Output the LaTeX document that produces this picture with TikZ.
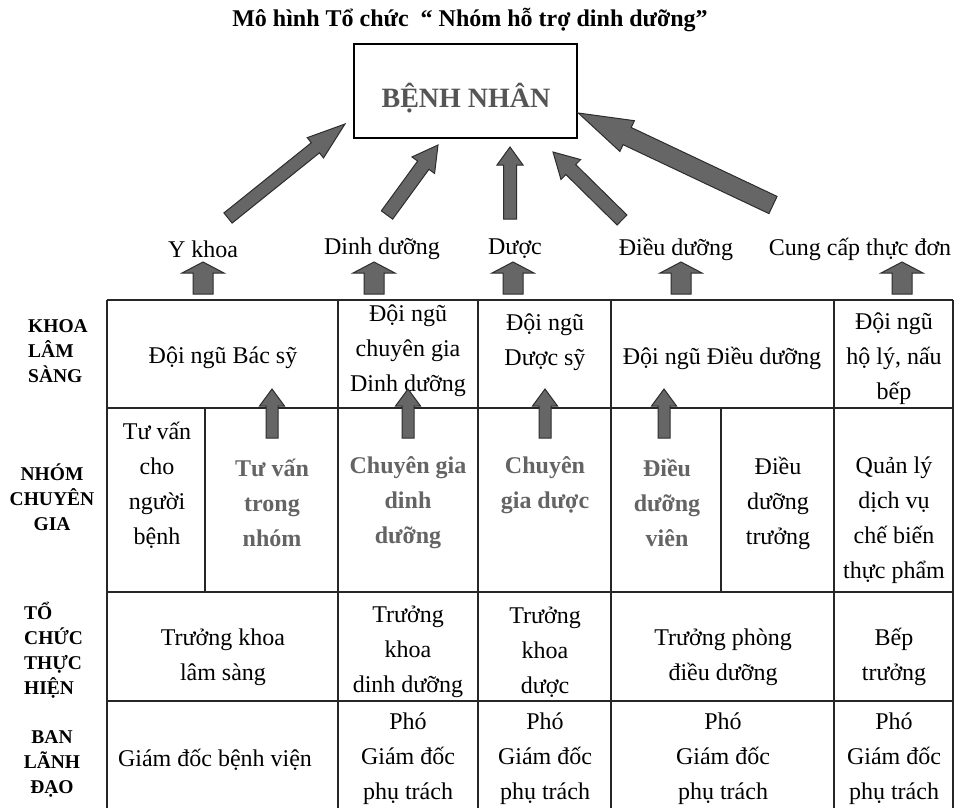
\documentclass[tikz,border=0pt]{standalone}
\usepackage{fontspec}
\setmainfont{Liberation Serif}
\usepackage{tikz}
\usetikzlibrary{positioning,calc}
\definecolor{arrfill}{RGB}{102,102,102}
\definecolor{arredge}{RGB}{45,45,45}
\definecolor{txtgray}{RGB}{100,100,100}
\newcommand{\blockarr}[5]{%
\path ($(#2)!#5!(#1)$) coordinate (hb);
\filldraw[blockarrow] ($(#1)!#3!90:(#2)$) -- ($(hb)!#3!90:(#2)$) -- ($(hb)!#4!90:(#2)$) -- (#2)
 -- ($(hb)!#4!-90:(#2)$) -- ($(hb)!#3!-90:(#2)$) -- ($(#1)!#3!-90:(#2)$) -- cycle;}
\tikzset{
cell/.style={inner sep=0pt,align=center,font=\fontsize{24}{35}\selectfont},
hot/.style={cell,font=\fontsize{24}{35}\selectfont\bfseries,text=txtgray},
rowlab/.style={inner sep=0pt,font=\fontsize{19.5}{25}\selectfont\bfseries},
headline/.style={inner sep=0pt,font=\fontsize{24}{28}\selectfont\bfseries},
patient/.style={draw=black,line width=2.6pt,minimum width=223pt,minimum height=94pt,inner sep=0pt},
patientlab/.style={inner sep=0pt,font=\fontsize{28}{32}\selectfont\bfseries,text=txtgray!85!black},
tabline/.style={line width=1.3pt,black!85},
blockarrow/.style={fill=arrfill,draw=arredge,line width=1pt,line join=miter}
}
\begin{document}
\begin{tikzpicture}[x=1pt,y=-1pt]
\useasboundingbox (0,0) rectangle (957,808);
\node[headline] (tit) at (470,20) {Mô hình Tổ chức\ \ “ Nhóm hỗ trợ dinh dưỡng”};
\node[patient] (bn) at (465.5,91) {};
\node[patientlab] (bnt) at (466,98) {BỆNH NHÂN};

\node[cell] (yk) at (203,249) {Y khoa};
\node[cell] (dd) at (382,249) {Dinh dưỡng};
\node[cell] (du) at (515,249) {Dược};
\node[cell] (dieu) at (676,249) {Điều dưỡng};
\node[cell] (cc) at (860,249) {Cung cấp thực đơn};

\coordinate (yk-a) at (228,218); \coordinate (yk-b) at (345,124);
\coordinate (dd-a) at (387,215); \coordinate (dd-b) at (438,145);
\coordinate (du-a) at (510,219); \coordinate (du-b) at (510,147);
\coordinate (dieu-a) at (622,220); \coordinate (dieu-b) at (553,152);
\coordinate (cc-a) at (773,205); \coordinate (cc-b) at (bn.east |- 0,113);
\blockarr{yk-a}{yk-b}{6.5pt}{13pt}{38pt}
\blockarr{dd-a}{dd-b}{7pt}{14pt}{25pt}
\blockarr{du-a}{du-b}{6.5pt}{13pt}{18pt}
\blockarr{dieu-a}{dieu-b}{7pt}{14pt}{25pt}
\blockarr{cc-a}{cc-b}{9.5pt}{17pt}{54pt}

\foreach \x in {203,374,513,681,902}{
\coordinate (up-a) at (\x,294); \coordinate (up-b) at (\x,262);
\blockarr{up-a}{up-b}{10pt}{21pt}{11pt}}

\draw[tabline] (107,300) -- (953,300) (107,408) -- (953,408) (107,592) -- (953,592) (107,701) -- (953,701);
\draw[tabline] \foreach \x in {107,338,478,611,834,953}{(\x,300) -- (\x,808)};
\draw[tabline] (205,408) -- (205,592) (721,408) -- (721,592);

\node[rowlab,align=left,anchor=west] (khoa) at (28,351) {KHOA\\LÂM\\SÀNG};
\node[rowlab,align=center] (nhom) at (52,497) {NHÓM\\CHUYÊN\\GIA};
\node[rowlab,align=left,anchor=west] (tochuc) at (24,650) {TỔ\\CHỨC\\THỰC\\HIỆN};
\node[rowlab,align=center] (ban) at (52,764) {BAN\\LÃNH\\ĐẠO};

\node[cell] (bacsy) at (223,358) {Đội ngũ Bác sỹ};
\node[cell] (cgia) at (408,351) {Đội ngũ\\chuyên gia\\Dinh dưỡng};
\node[cell] (duocsy) at (545,342) {Đội ngũ\\Dược sỹ};
\node[cell] (dieuduong) at (722,358) {Đội ngũ Điều dưỡng};
\node[cell] (holy) at (894,359) {Đội ngũ\\hộ lý, nấu\\bếp};

\node[cell] (tv1) at (157,485) {Tư vấn\\cho\\người\\bệnh};
\node[hot] (tv2) at (272,503) {Tư vấn\\trong\\nhóm};
\node[hot] (cgdd) at (408,503) {Chuyên gia\\dinh\\dưỡng};
\node[hot] (cgduoc) at (545,485) {Chuyên\\gia dược};
\node[hot] (ddv) at (667,503) {Điều\\dưỡng\\viên};
\node[cell] (ddt) at (778,503) {Điều\\dưỡng\\trưởng};
\node[cell] (qly) at (894,520) {Quản lý\\dịch vụ\\chế biến\\thực phẩm};

\foreach \x in {272,408,545,664}{
\coordinate (in-a) at (\x,438); \coordinate (in-b) at (\x,389);
\blockarr{in-a}{in-b}{6pt}{12.5pt}{17pt}}

\node[cell] (tkls) at (223,657) {Trưởng khoa\\lâm sàng};
\node[cell] (tkdd) at (408,652) {Trưởng\\khoa\\dinh dưỡng};
\node[cell] (tkduoc) at (545,652) {Trưởng\\khoa\\dược};
\node[cell] (tpdd) at (723,657) {Trưởng phòng\\điều dưỡng};
\node[cell] (bep) at (894,657) {Bếp\\trưởng};

\node[cell] (gdbv) at (215,760) {Giám đốc bệnh viện};
\node[cell] (pgd1) at (408,759) {Phó\\Giám đốc\\phụ trách};
\node[cell] (pgd2) at (545,759) {Phó\\Giám đốc\\phụ trách};
\node[cell] (pgd3) at (723,759) {Phó\\Giám đốc\\phụ trách};
\node[cell] (pgd4) at (894,759) {Phó\\Giám đốc\\phụ trách};
\end{tikzpicture}
\end{document}
